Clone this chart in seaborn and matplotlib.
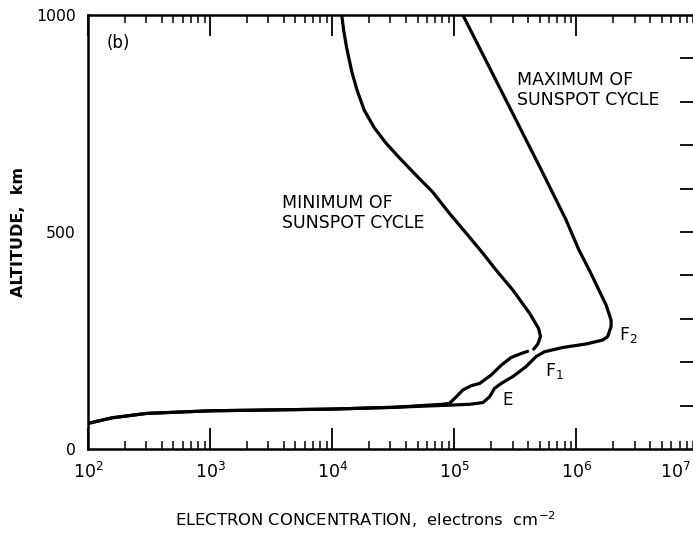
import numpy as np
import pandas as pd
import matplotlib
matplotlib.use("Agg")
import matplotlib.pyplot as plt
import matplotlib.ticker as mticker
import seaborn as sns

# ---- data (log10 of electron concentration, altitude km) ----
min_upper_log = [4.078, 4.094, 4.118, 4.160, 4.203, 4.262, 4.345, 4.44, 4.54, 4.70,
                 4.82, 4.96, 5.098, 5.234, 5.343, 5.48, 5.616, 5.69, 5.706,
                 5.684, 5.650]
min_upper_alt = [1000, 965, 925, 870, 827, 781, 740, 705, 674, 627,
                 593, 543, 497, 451, 412, 366, 313, 278, 259,
                 242, 230]

min_lower_log = [5.600, 5.548, 5.466, 5.384, 5.30, 5.207, 5.14, 5.07, 5.015, 4.96,
                 4.90, 4.50, 4.0, 3.5, 3.0, 2.48, 2.2, 2.0]
min_lower_alt = [225, 220, 211, 193, 170, 151, 146, 136, 120, 105,
                 103, 96, 92, 90, 88, 82, 72, 59]

max_log = [5.07, 5.45, 5.70, 5.915, 6.02, 6.106, 6.243, 6.284, 6.284, 6.256, 6.215,
           6.08, 5.89, 5.738, 5.67, 5.588, 5.48, 5.384, 5.33, 5.288, 5.235, 5.125,
           4.96, 4.50, 4.0, 3.5, 3.0, 2.48, 2.2, 2.0]
max_alt = [1000, 789, 650, 528, 459, 412, 332, 297, 282, 259, 251,
           242, 234, 224, 213, 190, 167, 151, 140, 120, 107, 103,
           101, 96, 92, 90, 88, 82, 72, 59]

x_tick_exp = [2, 3, 4, 5, 6, 7]
y_major = [0, 500, 1000]
y_minor = [100, 200, 300, 400, 600, 700, 800, 900]
y_right = [100, 200, 300, 400, 500, 600, 700, 800, 900]

curves = [
    ("min_upper", min_upper_log, min_upper_alt),
    ("min_lower", min_lower_log, min_lower_alt),
    ("max", max_log, max_alt),
]
frames = []
for name, lg, alt in curves:
    frames.append(pd.DataFrame({"conc": np.power(10.0, lg), "alt": alt, "curve": name}))
df = pd.concat(frames, ignore_index=True)

sns.set_style("white")
plt.rcParams["font.family"] = ["DejaVu Sans"]
plt.rcParams["text.color"] = "black"
plt.rcParams["axes.labelcolor"] = "black"
plt.rcParams["xtick.color"] = "black"
plt.rcParams["ytick.color"] = "black"
plt.rcParams["lines.solid_capstyle"] = "round"
plt.rcParams["lines.solid_joinstyle"] = "round"

fig = plt.figure(figsize=(6.93, 5.36), dpi=100)
ax = fig.add_axes([88 / 693, (536 - 449) / 536, (698.5 - 88) / 693, (449 - 15) / 536])

for name, _, _ in curves:
    sub = df[df["curve"] == name]
    sns.lineplot(data=sub, x="conc", y="alt", sort=False, estimator=None,
                 color="black", linewidth=2.3, ax=ax, legend=False)

ax.set_xscale("log")
ax.set_xlim(1e2, 1e7)
ax.set_ylim(0, 1000)

tick_labels = [r"$10^{%d}$" % e for e in x_tick_exp]
ax.xaxis.set_major_locator(mticker.FixedLocator([10.0 ** e for e in x_tick_exp]))
# the right-most label sits at the canvas edge; it is drawn separately below
ax.xaxis.set_major_formatter(mticker.FixedFormatter(tick_labels[:-1] + [""]))
ax.xaxis.set_minor_locator(mticker.LogLocator(base=10, subs=np.arange(2, 10)))
ax.xaxis.set_minor_formatter(mticker.NullFormatter())
ax.tick_params(axis="x", which="major", direction="in", length=15, width=1.3,
               top=True, bottom=True, labelsize=12.5, pad=9)
ax.tick_params(axis="x", which="minor", direction="in", length=6, width=1.1,
               top=True, bottom=True)
ax.annotate(tick_labels[-1], xy=(10.0 ** x_tick_exp[-1], 0), xycoords="data",
            xytext=(-5.5, -9), textcoords="offset points", ha="right", va="top",
            fontsize=12.5, annotation_clip=False)

ax.yaxis.set_major_locator(mticker.FixedLocator(y_major))
ax.yaxis.set_minor_locator(mticker.FixedLocator(y_minor))
ax.yaxis.set_minor_formatter(mticker.NullFormatter())
ax.tick_params(axis="y", which="major", direction="out", length=6, width=1.3,
               labelsize=11.3, pad=3, right=False)
ax.tick_params(axis="y", which="minor", direction="in", length=12, width=1.3, right=False)

sec = ax.secondary_yaxis("right")
sec.set_yticks(y_right)
sec.tick_params(direction="in", length=14, width=1.3, labelright=False)
sec.spines["right"].set_visible(False)

for s in ["left", "bottom", "top"]:
    ax.spines[s].set_linewidth(1.8)
    ax.spines[s].set_color("black")
ax.spines["right"].set_visible(False)

ax.set_xlabel(r"ELECTRON CONCENTRATION,  electrons  cm$^{-2}$", fontsize=11.8, labelpad=20)
ax.xaxis.label.set_x((365 - 88) / (698.5 - 88))
ax.set_ylabel("ALTITUDE,  km", fontsize=11.5, fontweight="bold", labelpad=7)

ax.text(0.031, 0.935, "(b)", transform=ax.transAxes, fontsize=12, va="center", ha="left")
ax.text(10 ** 3.59, 543, "MINIMUM OF\nSUNSPOT CYCLE", fontsize=12.5, ha="left",
        va="center", linespacing=1.15)
ax.text(10 ** 5.517, 828, "MAXIMUM OF\nSUNSPOT CYCLE", fontsize=12.5, ha="left",
        va="center", linespacing=1.15)
ax.text(10 ** 6.35, 262, r"F$_2$", fontsize=12.5, ha="left", va="center")
ax.text(10 ** 5.74, 180, r"F$_1$", fontsize=12.5, ha="left", va="center")
ax.text(10 ** 5.395, 112, "E", fontsize=12, ha="left", va="center")

fig.savefig("out.png", dpi=100)
